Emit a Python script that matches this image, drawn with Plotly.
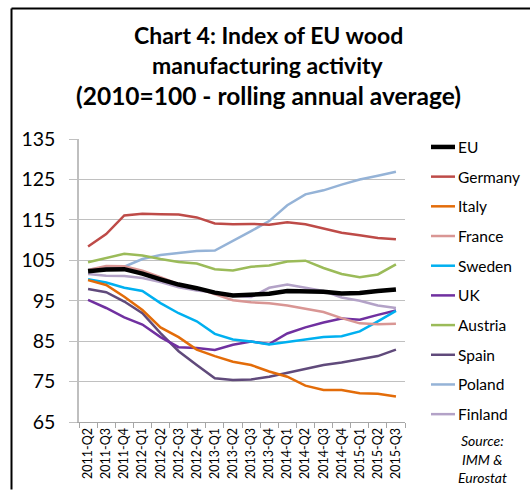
import plotly.graph_objects as go

quarters = ["2011-Q2", "2011-Q3", "2011-Q4", "2012-Q1", "2012-Q2", "2012-Q3", "2012-Q4",
            "2013-Q1", "2013-Q2", "2013-Q3", "2013-Q4", "2014-Q1", "2014-Q2", "2014-Q3",
            "2014-Q4", "2015-Q1", "2015-Q2", "2015-Q3"]

eu      = [102.3, 102.7, 102.8, 101.7, 100.3, 99.0, 98.1, 97.0, 96.3, 96.6, 96.7, 97.4, 97.4, 97.2, 96.8, 96.9, 97.4, 97.8]
germany = [108.4, 111.5, 116.1, 116.5, 116.4, 116.3, 115.6, 114.1, 113.9, 114.0, 113.8, 114.4, 113.9, 112.8, 111.8, 111.2, 110.5, 110.2]
italy   = [100.1, 98.9, 96.0, 92.7, 88.4, 86.0, 82.9, 81.3, 79.9, 79.1, 77.5, 76.2, 74.0, 72.9, 72.9, 72.1, 72.0, 71.3]
france  = [102.6, 103.6, 103.5, 102.4, 100.8, 99.1, 98.1, 96.6, 95.1, 94.6, 94.4, 93.8, 93.0, 92.2, 90.7, 89.4, 89.2, 89.3]
sweden  = [100.3, 99.5, 98.2, 97.4, 94.4, 91.9, 89.9, 86.8, 85.4, 84.9, 84.2, 84.8, 85.4, 86.0, 86.2, 87.4, 89.9, 92.5]
uk      = [95.2, 93.2, 90.9, 89.1, 86.0, 83.5, 83.3, 82.8, 84.1, 84.9, 84.3, 86.9, 88.4, 89.6, 90.6, 90.3, 91.5, 92.6]
austria = [104.5, 105.5, 106.6, 106.2, 105.3, 104.6, 104.2, 102.8, 102.5, 103.4, 103.7, 104.7, 104.9, 103.1, 101.6, 100.8, 101.5, 104.0]
spain   = [97.9, 97.1, 94.8, 91.9, 87.0, 82.5, 79.1, 75.8, 75.4, 75.5, 76.2, 77.2, 78.2, 79.1, 79.7, 80.5, 81.3, 82.9]
poland  = [102.7, 103.1, 103.4, 105.3, 106.3, 106.8, 107.3, 107.4, 109.7, 112.2, 114.7, 118.6, 121.3, 122.3, 123.7, 125.0, 125.9, 126.9]
finland = [101.6, 101.2, 101.1, 100.6, 99.6, 98.3, 97.5, 97.0, 96.2, 95.9, 98.2, 99.0, 98.2, 97.4, 95.8, 95.0, 93.8, 93.2]

series_names = ["EU", "Germany", "Italy", "France", "Sweden", "UK", "Austria", "Spain", "Poland", "Finland"]
series_values = [eu, germany, italy, france, sweden, uk, austria, spain, poland, finland]
colors = ["#000000", "#BE4B48", "#E36C09", "#D99694", "#00B0F0", "#7030A0",
          "#9BBB59", "#604A7B", "#95B3D7", "#B3A2C7"]
widths = [4.5, 2.5, 2.5, 2.5, 2.5, 2.5, 2.5, 2.5, 2.5, 2.5]

title_lines = ["Chart 4: Index of EU wood", "manufacturing activity",
               "(2010=100 - rolling annual average)"]
title_sizes = [23, 23, 24.5]
source_lines = ["Source:", "IMM &", "Eurostat"]

W, H = 530, 491
ML, MR, MT, MB = 79, 125, 139, 67
PW, PH = W - ML - MR, H - MT - MB


def px(x):
    return (x - ML) / PW


def py(y):
    return (H - MB - y) / PH


FONT = "Lato, 'Open Sans', sans-serif"

fig = go.Figure()
# draw in reverse so EU sits on top
for name, vals, col, w in reversed(list(zip(series_names, series_values, colors, widths))):
    fig.add_trace(go.Scatter(x=quarters, y=vals, mode="lines", name=name,
                             line=dict(color=col, width=w), showlegend=False))

annotations = []
shapes = []

# title
for i, (t, s) in enumerate(zip(title_lines, title_sizes)):
    annotations.append(dict(text="<b>%s</b>" % t, x=px(268), y=py(34 + 30.5 * i),
                            xref="paper", yref="paper", showarrow=False,
                            xanchor="center", yanchor="middle",
                            font=dict(family=FONT, size=s, color="#000000")))

# manual legend
for i, (name, col, w) in enumerate(zip(series_names, colors, widths)):
    yy = py(147 + 29.9 * i)
    shapes.append(dict(type="line", xref="paper", yref="paper",
                       x0=px(431), x1=px(455), y0=yy, y1=yy,
                       line=dict(color=col, width=w)))
    annotations.append(dict(text=name, x=px(456), y=yy, xref="paper", yref="paper",
                            showarrow=False, xanchor="left", yanchor="middle",
                            font=dict(family=FONT, size=15.5, color="#000000")))

# source
for i, t in enumerate(source_lines):
    annotations.append(dict(text="<i>%s</i>" % t, x=px(482), y=py(443 + 18.5 * i),
                            xref="paper", yref="paper", showarrow=False,
                            xanchor="center", yanchor="middle",
                            font=dict(family=FONT, size=14, color="#000000")))

# outer frame (top and left edges)
shapes.append(dict(type="line", xref="paper", yref="paper",
                   x0=px(11.5), x1=px(531), y0=py(7.5), y1=py(7.5),
                   line=dict(color="#000000", width=2)))
shapes.append(dict(type="line", xref="paper", yref="paper",
                   x0=px(11.5), x1=px(11.5), y0=py(7.5), y1=py(492),
                   line=dict(color="#000000", width=2)))

fig.update_layout(
    width=W, height=H,
    margin=dict(l=ML, r=MR, t=MT, b=MB),
    paper_bgcolor="white", plot_bgcolor="white",
    font=dict(family=FONT, color="#000000"),
    annotations=annotations, shapes=shapes,
    showlegend=False,
)
fig.update_xaxes(type="category", tickangle=-90, tickson="boundaries",
                 ticks="outside", ticklen=5, tickcolor="#A6A6A6",
                 showline=True, linecolor="#A6A6A6", linewidth=1,
                 showgrid=False, tickfont=dict(family=FONT, size=12.5, color="#000000"),
                 range=[-0.5, len(quarters) - 0.5])
fig.update_yaxes(range=[65, 135], tick0=65, dtick=10,
                 showgrid=True, gridcolor="#C0C0C0", gridwidth=1,
                 ticks="outside", ticklen=8, tickcolor="#C0C0C0",
                 showline=True, linecolor="#BFBFBF", linewidth=1.5,
                 zeroline=False, ticklabelstandoff=10,
                 tickfont=dict(family=FONT, size=19.5, color="#000000"))

fig.write_html("out.html")
